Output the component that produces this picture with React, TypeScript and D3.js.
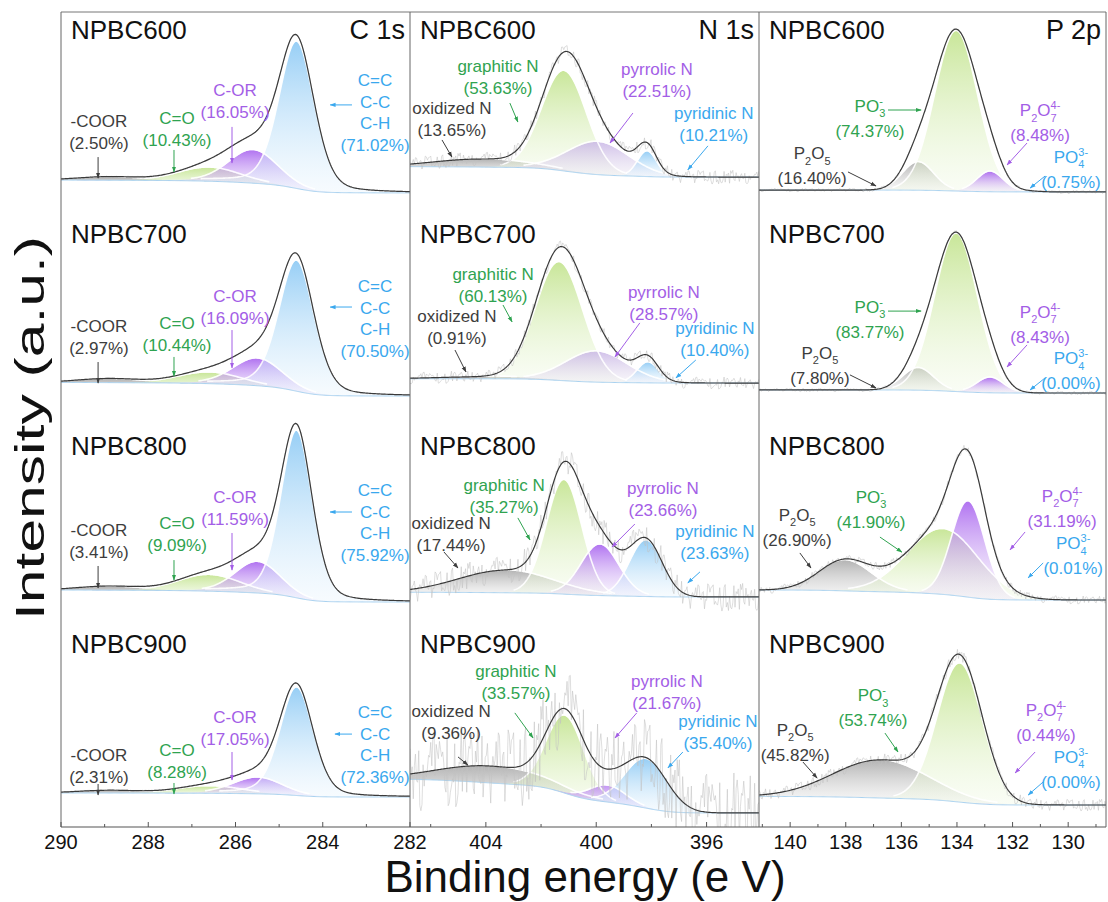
import React, { useMemo } from "react";
import * as d3 from "d3";

// ---------------- data ----------------
const SAMPLES = ["NPBC600", "NPBC700", "NPBC800", "NPBC900"];
const REGION_TITLES = ["C 1s", "N 1s", "P 2p"];

const C1S_DOMAIN = [290, 282];
const N1S_DOMAIN = [406.75, 394.1];
const P2P_DOMAIN = [141.12, 128.64];

const C1S_TICKS = [290, 288, 286, 284, 282];
const C1S_MINOR = [289, 287, 285, 283];
const N1S_TICKS = [404, 400, 396];
const N1S_MINOR = [406, 402, 398];
const P2P_TICKS = [140, 138, 136, 134, 132, 130];
const P2P_MINOR = [141, 139, 137, 135, 133, 131, 129];

// component order: gray, green, purple, blue
const C1S_NAMES = [["-COOR"], ["C=O"], ["C-OR"], ["C=C", "C-C", "C-H"]];
const N1S_NAMES = [["oxidized N"], ["graphitic N"], ["pyrrolic N"], ["pyridinic N"]];
const P2P_NAMES = [["P_2O_5"], ["PO_3^-"], ["P_2O_7^4-"], ["PO_4^3-"]];

const C1S_PERCENT = [
  [2.5, 10.43, 16.05, 71.02],
  [2.97, 10.44, 16.09, 70.5],
  [3.41, 9.09, 11.59, 75.92],
  [2.31, 8.28, 17.05, 72.36],
];
const N1S_PERCENT = [
  [13.65, 53.63, 22.51, 10.21],
  [0.91, 60.13, 28.57, 10.4],
  [17.44, 35.27, 23.66, 23.63],
  [9.36, 33.57, 21.67, 35.4],
];
const P2P_PERCENT = [
  [16.4, 74.37, 8.48, 0.75],
  [7.8, 83.77, 8.43, 0.0],
  [26.9, 41.9, 31.19, 0.01],
  [45.82, 53.74, 0.44, 0.0],
];

// fitted peak centres (eV)
const C1S_CENTER = [
  [288.9, 286.6, 285.6, 284.6],
  [288.9, 286.6, 285.5, 284.6],
  [288.9, 286.6, 285.5, 284.6],
  [288.9, 286.6, 285.5, 284.6],
];
const N1S_CENTER = [
  [404.2, 401.17, 399.94, 398.16],
  [404.0, 401.35, 400.0, 398.13],
  [403.3, 401.17, 399.87, 398.2],
  [403.85, 401.13, 399.6, 398.2],
];
const P2P_CENTER = [
  [135.4, 134.03, 132.81, 131.5],
  [135.4, 134.03, 132.81, 131.5],
  [138.03, 134.5, 133.6, 131.5],
  [136.77, 133.9, 132.8, 131.5],
];

// FWHM (eV)
const C1S_FWHM = [
  [1.6, 1.6, 1.3, 0.95],
  [1.6, 1.6, 1.3, 0.95],
  [1.6, 1.6, 1.2, 0.85],
  [1.6, 1.6, 1.3, 0.9],
];
const N1S_FWHM = [
  [4.0, 1.9, 2.6, 0.8],
  [4.0, 2.0, 2.6, 0.9],
  [4.0, 1.5, 1.6, 1.4],
  [4.5, 1.6, 1.5, 1.8],
];
const P2P_FWHM = [
  [1.3, 1.8, 1.1, 1.0],
  [1.3, 1.8, 1.1, 1.0],
  [2.2, 3.0, 1.4, 1.0],
  [4.0, 1.9, 1.0, 1.0],
];

// peak heights (a.u., 0-100 per panel)
const C1S_HEIGHT = [
  [1.5, 6.6, 16.2, 72],
  [1.8, 5.4, 13.3, 64],
  [1.8, 7.9, 15.2, 82],
  [1.2, 3.4, 7.9, 53],
];
const N1S_HEIGHT = [
  [3.9, 49, 16, 12.3],
  [1.0, 58, 15, 10],
  [11, 56, 25, 27.5],
  [8.3, 38, 8, 24],
];
const P2P_HEIGHT = [
  [13.7, 78.5, 9.8, 0.4],
  [10.8, 77.5, 7.4, 0],
  [15, 32, 47, 0],
  [18.6, 68, 0.4, 0],
];

// Lorentzian fraction of each component
const C1S_ETA = [0, 0, 0.1, 0.25];
const N1S_ETA = [0, 0, 0, 0];
const P2P_ETA = [0, 0, 0, 0];

// background level [high-BE side, low-BE side]
const C1S_BG = [[17.5, 11.2], [18.2, 11.5], [16.3, 10.4], [16.7, 14.7]];
const N1S_BG = [[24.1, 19.0], [20.0, 17.9], [15.2, 12.9], [23.4, 6.9]];
const P2P_BG = [[12.6, 11.7], [14.5, 13.0], [16.3, 11.4], [15.0, 10.8]];

// raw-data noise amplitude
const C1S_NOISE = [0.3, 0.3, 0.3, 0.3];
const N1S_NOISE = [3.5, 3, 7, 20];
const P2P_NOISE = [0.8, 0.8, 2, 3];

// measured scatter pattern of the raw spectra (hand read, normalised)
const NOISE = [
  0.12, -0.45, 0.78, -0.91, 0.33, 0.05, -0.62, 0.88, -0.27, 0.41, -0.08, 0.67, -0.74, 0.19, 0.93, -0.36,
  -0.55, 0.24, 0.71, -0.83, 0.47, -0.12, 0.58, -0.69, 0.02, 0.85, -0.41, -0.19, 0.63, -0.97, 0.36, 0.15,
  -0.52, 0.79, -0.23, 0.44, -0.88, 0.09, 0.61, -0.31, -0.72, 0.54, 0.27, -0.66, 0.91, -0.04, -0.48, 0.38,
  -0.81, 0.69, 0.11, -0.29, 0.83, -0.57, 0.22, -0.94, 0.49, 0.07, -0.38, 0.76, -0.15, 0.57, -0.79, 0.31,
  0.98, -0.44, -0.06, 0.65, -0.87, 0.18, 0.42, -0.61, 0.73, -0.21, -0.53, 0.89, -0.35, 0.14, 0.6, -0.77,
  0.29, -0.99, 0.52, 0.03, -0.46, 0.81, -0.26, 0.37, -0.7, 0.95, -0.13, -0.58, 0.45, 0.21, -0.84, 0.68,
  -0.33, 0.08, 0.74, -0.64, 0.26, -0.18, 0.87, -0.51, 0.39, -0.92, 0.16, 0.55, -0.24, -0.71, 0.62, 0.34,
  -0.86, 0.48, -0.1, 0.92, -0.39, 0.01, 0.7, -0.6, 0.43, -0.28, 0.8, -0.95, 0.17,
];

// annotation anchors in data coordinates [eV, a.u.]
const C1S_NOTE = [
  [[289.13, 43.6], [287.34, 45.0], [286.01, 58.8], [282.8, 63.7]],
  [[289.13, 43.0], [287.34, 44.4], [286.01, 57.7], [282.8, 62.6]],
  [[289.13, 42.8], [287.34, 46.3], [286.01, 59.0], [282.8, 62.5]],
  [[289.13, 32.4], [287.34, 34.8], [286.01, 51.0], [282.8, 53.5]],
];
const C1S_ARROW = [
  [[289.15, 28.8, 289.15, 18.5], [287.41, 32.3, 287.41, 21.5], [286.08, 43.6, 286.08, 25.9], [283.33, 54.4, 283.83, 54.4]],
  [[289.15, 28.2, 289.15, 17.9], [287.41, 30.7, 287.41, 21.3], [286.08, 43.9, 286.08, 25.3], [283.33, 55.2, 283.83, 55.2]],
  [[289.15, 28.1, 289.15, 17.3], [287.41, 31.0, 287.41, 21.2], [286.08, 44.3, 286.08, 26.1], [283.33, 54.6, 283.83, 54.6]],
  [[289.15, 21.1, 289.15, 15.7], [287.41, 21.6, 287.41, 16.2], [286.08, 36.8, 286.08, 23.1], [283.33, 45.6, 283.72, 45.6]],
];
const N1S_NOTE = [
  [[405.23, 49.9], [403.56, 70.6], [397.8, 69.1], [395.74, 47.5]],
  [[405.05, 47.9], [403.74, 68.5], [397.55, 59.6], [395.7, 42.0]],
  [[405.26, 46.3], [403.34, 64.9], [397.58, 63.4], [395.7, 42.3]],
  [[405.26, 54.0], [402.91, 73.6], [397.44, 68.7], [395.59, 49.1]],
];
const N1S_ARROW = [
  [[405.59, 37.2, 405.23, 28.8], [403.13, 55.3, 402.84, 46.0], [398.67, 50.4, 399.5, 35.7], [395.95, 34.3, 396.68, 22.5]],
  [[405.12, 34.1, 404.72, 23.3], [403.38, 56.2, 403.05, 47.9], [398.42, 47.4, 399.32, 30.7], [396.39, 29.2, 397.11, 20.4]],
  [[405.52, 35.0, 405.01, 27.1], [402.84, 51.7, 402.4, 40.9], [398.6, 48.7, 399.43, 37.4], [396.24, 25.2, 396.68, 19.8]],
  [[405.01, 34.4, 404.65, 30.4], [402.95, 56.0, 402.29, 43.7], [398.53, 56.0, 399.32, 43.7], [396.86, 36.8, 397.4, 29.0]],
];
const P2P_NOTE = [
  [[139.21, 27.8], [137.13, 50.9], [131.01, 48.9], [129.9, 25.9]],
  [[138.93, 29.7], [137.13, 52.3], [131.01, 49.8], [129.9, 27.2]],
  [[139.75, 50.2], [137.09, 59.0], [130.22, 59.5], [129.82, 36.4]],
  [[139.82, 44.7], [137.02, 61.8], [130.8, 54.5], [129.9, 31.4]],
];
const P2P_ARROW = [
  [[137.92, 21.5, 136.91, 14.6], [136.48, 51.9, 135.29, 51.9], [131.48, 35.7, 132.2, 24.9], [130.83, 19.5, 131.37, 13.6]],
  [[137.85, 21.9, 136.91, 15.5], [136.48, 53.2, 135.29, 53.2], [131.48, 36.6, 132.2, 25.8], [130.83, 20.4, 131.37, 14.5]],
  [[139.65, 34.5, 139.25, 27.1], [136.77, 42.3, 135.98, 34.9], [131.55, 44.8, 132.09, 36.0], [130.9, 29.6, 131.44, 22.3]],
  [[139.54, 31.9, 139.03, 24.0], [136.59, 46.1, 136.12, 36.8], [131.19, 36.8, 131.91, 26.5], [130.9, 22.1, 131.44, 15.7]],
];

// ---------------- layout / style ----------------
const COL_EDGES = [61, 410, 759, 1106];
const TOP = 12;
const BOTTOM = 827;
const ROW_H = (BOTTOM - TOP) / 4;
const TITLE_OFFSET = [27, 27, 35, 30];
const LINE_GAP = [21.7, 22, 25];
const FONT = "'Liberation Sans', Arial, Helvetica, sans-serif";
const TEXT_COLORS = ["#3d3d3d", "#2fa350", "#a35ee6", "#3aa8ee"];
const FILL_TOP = ["#a6a6a6", "#c6e594", "#ad6cf0", "#92ccf5", "#c9b6e6"];
const FILL_BOTTOM = ["#ececec", "#f0f9e4", "#e9dcf8", "#e8f4fd", "#ece8f2"];
const FILL_TOP_OP = [0.85, 0.95, 0.95, 0.95, 0.85];
const FILL_BOTTOM_OP = [0.35, 0.35, 0.3, 0.35, 0.4];

const REGIONS = [
  { title: REGION_TITLES[0], domain: C1S_DOMAIN, ticks: C1S_TICKS, minor: C1S_MINOR, names: C1S_NAMES, percent: C1S_PERCENT, center: C1S_CENTER, fwhm: C1S_FWHM, height: C1S_HEIGHT, eta: C1S_ETA, bg: C1S_BG, noise: C1S_NOISE, note: C1S_NOTE, arrow: C1S_ARROW },
  { title: REGION_TITLES[1], domain: N1S_DOMAIN, ticks: N1S_TICKS, minor: N1S_MINOR, names: N1S_NAMES, percent: N1S_PERCENT, center: N1S_CENTER, fwhm: N1S_FWHM, height: N1S_HEIGHT, eta: N1S_ETA, bg: N1S_BG, noise: N1S_NOISE, note: N1S_NOTE, arrow: N1S_ARROW },
  { title: REGION_TITLES[2], domain: P2P_DOMAIN, ticks: P2P_TICKS, minor: P2P_MINOR, names: P2P_NAMES, percent: P2P_PERCENT, center: P2P_CENTER, fwhm: P2P_FWHM, height: P2P_HEIGHT, eta: P2P_ETA, bg: P2P_BG, noise: P2P_NOISE, note: P2P_NOTE, arrow: P2P_ARROW },
];

function pseudoVoigt(E: number, c: number, w: number, a: number, eta: number) {
  const d = (E - c) / w;
  return a * ((1 - eta) * Math.exp(-4 * Math.LN2 * d * d) + eta / (1 + 4 * d * d));
}

function Chem({ text, x, y, size, fill }: { text: string; x: number; y: number; size: number; fill: string }) {
  const sub = Math.round(size * 0.66);
  const tokens: { t: string; k: string }[] = [];
  let i = 0;
  while (i < text.length) {
    const ch = text[i];
    if (ch === "_") {
      tokens.push({ t: text[i + 1], k: "sub" });
      i += 2;
    } else if (ch === "^") {
      tokens.push({ t: text.slice(i + 1), k: "sup" });
      break;
    } else {
      let j = i;
      while (j < text.length && text[j] !== "_" && text[j] !== "^") j++;
      tokens.push({ t: text.slice(i, j), k: "n" });
      i = j;
    }
  }
  let cur = 0;
  let lastSub = 0;
  return (
    <text x={x} y={y} fill={fill} fontSize={size} fontFamily={FONT} textAnchor="middle">
      {tokens.map((tk, idx) => {
        const target = tk.k === "sub" ? size * 0.32 : tk.k === "sup" ? -size * 0.42 : 0;
        const dy = target - cur;
        cur = target;
        const dx = tk.k === "sup" && lastSub > 0 ? -lastSub * sub * 0.556 : 0;
        lastSub = tk.k === "sub" ? tk.t.length : 0;
        return (
          <tspan key={idx} dx={dx} dy={dy} fontSize={tk.k === "n" ? size : sub}>
            {tk.t}
          </tspan>
        );
      })}
    </text>
  );
}

const N = 320;

export default function App() {
  const panels = useMemo(() => {
    const out: any[] = [];
    REGIONS.forEach((region, c) => {
      const x = d3.scaleLinear().domain(region.domain).range([COL_EDGES[c], COL_EDGES[c + 1]]);
      SAMPLES.forEach((sample, s) => {
        const rowTop = TOP + s * ROW_H;
        const rowBottom = rowTop + ROW_H;
        const y = d3.scaleLinear().domain([0, 100]).range([rowBottom, rowTop]);
        const [d0, d1] = region.domain;
        const grid = d3.range(N + 1).map((i) => d0 + ((d1 - d0) * i) / N);
        const comps = region.center[s].map((cen, k) =>
          grid.map((E) => pseudoVoigt(E, cen, region.fwhm[s][k], region.height[s][k], region.eta[k]))
        );
        const total = grid.map((_, i) => d3.sum(comps, (cc) => cc[i]));
        const step = Math.abs(d1 - d0) / N;
        const cum = new Array(N + 1).fill(0);
        for (let i = N - 1; i >= 0; i--) cum[i] = cum[i + 1] + ((total[i] + total[i + 1]) / 2) * step;
        const [bL, bR] = region.bg[s];
        const bgv = grid.map((_, i) => bR + ((bL - bR) * cum[i]) / (cum[0] || 1));
        const env = grid.map((_, i) => bgv[i] + total[i]);
        const raw = grid.map(
          (_, i) => env[i] + region.noise[s] * NOISE[(i * 7 + s * 31 + c * 17) % NOISE.length]
        );
        const area = d3
          .area<number>()
          .x((_, i) => x(grid[i]))
          .y0((_, i) => y(bgv[i]))
          .y1((v, i) => y(bgv[i] + v));
        const halo = d3
          .line<number>()
          .defined((v) => v > 0.8)
          .x((_, i) => x(grid[i]))
          .y((v, i) => y(bgv[i] + v) - 0.8);
        const line = d3
          .line<number>()
          .x((_, i) => x(grid[i]))
          .y((v) => y(v));
        out.push({ c, s, sample, x, y, rowTop, comps, area, halo, line, bgv, env, raw, region });
      });
    });
    return out;
  }, []);

  const gradFor = (c: number, s: number, k: number) => (c === 1 && s < 2 && k === 2 ? 4 : k);

  return (
    <svg width={1108} height={902} style={{ position: "absolute", left: 0, top: 0, background: "#fff" }} fontFamily={FONT}>
      <defs>
        {FILL_TOP.map((col, k) => (
          <linearGradient key={k} id={`grad-${k}`} x1="0" y1="0" x2="0" y2="1">
            <stop offset="0" stopColor={col} stopOpacity={FILL_TOP_OP[k]} />
            <stop offset="1" stopColor={FILL_BOTTOM[k]} stopOpacity={FILL_BOTTOM_OP[k]} />
          </linearGradient>
        ))}
        {TEXT_COLORS.map((col, k) => (
          <marker key={k} id={`ah-${k}`} viewBox="0 0 10 10" refX="9" refY="5" markerWidth="6" markerHeight="6" orient="auto">
            <path d="M0,1.5 L10,5 L0,8.5 z" fill={col} />
          </marker>
        ))}
        {[0, 1, 2].map((c) => (
          <clipPath key={c} id={`clip-${c}`}>
            <rect x={COL_EDGES[c]} y={TOP} width={COL_EDGES[c + 1] - COL_EDGES[c]} height={BOTTOM - TOP} />
          </clipPath>
        ))}
      </defs>

      {panels.map((p) => (
        <g key={`${p.c}-${p.s}`} clipPath={`url(#clip-${p.c})`}>
          {p.comps.map((cc: number[], k: number) => (
            <path key={k} d={p.area(cc)} fill={`url(#grad-${gradFor(p.c, p.s, k)})`} stroke="none" />
          ))}
          {p.comps.map((cc: number[], k: number) => (
            <path key={`h${k}`} d={p.halo(cc)} fill="none" stroke="#fff" strokeWidth={1.6} strokeOpacity={0.9} />
          ))}
          <path d={p.line(p.bgv)} fill="none" stroke="#a9d2f0" strokeWidth={1} />
          <path d={p.line(p.raw)} fill="none" stroke="#c2c2c2" strokeWidth={0.6} strokeOpacity={0.9} />
          <path d={p.line(p.env)} fill="none" stroke="#3a3a3a" strokeWidth={1.2} />
        </g>
      ))}

      {/* annotations */}
      {panels.map((p) =>
        p.region.names.map((nm: string[], k: number) => {
          const pos = p.region.note[p.s][k];
          const ar = p.region.arrow[p.s][k];
          const gap = LINE_GAP[p.c];
          const tx = p.x(pos[0]);
          const ty = p.y(pos[1]);
          const lines = [...nm, `(${p.region.percent[p.s][k].toFixed(2)}%)`];
          return (
            <g key={`a-${p.c}-${p.s}-${k}`}>
              {lines.map((ln, j) =>
                p.c === 2 && j === 0 ? (
                  <Chem key={j} text={ln} x={tx} y={ty} size={17} fill={TEXT_COLORS[k]} />
                ) : (
                  <text key={j} x={tx} y={ty + j * gap} fontSize={17} fill={TEXT_COLORS[k]} textAnchor="middle">
                    {ln}
                  </text>
                )
              )}
              <line
                x1={p.x(ar[0])}
                y1={p.y(ar[1])}
                x2={p.x(ar[2])}
                y2={p.y(ar[3])}
                stroke={TEXT_COLORS[k]}
                strokeWidth={1}
                markerEnd={`url(#ah-${k})`}
              />
            </g>
          );
        })
      )}

      {/* sample titles */}
      {panels.map((p) => (
        <text key={`t-${p.c}-${p.s}`} x={COL_EDGES[p.c] + 10} y={p.rowTop + TITLE_OFFSET[p.s]} fontSize={26} fill="#111">
          {p.sample}
        </text>
      ))}
      {REGIONS.map((r, c) => (
        <text key={`rt-${c}`} x={COL_EDGES[c + 1] - 5} y={TOP + TITLE_OFFSET[0]} fontSize={27} fill="#111" textAnchor="end">
          {r.title}
        </text>
      ))}

      {/* frame */}
      <line x1={COL_EDGES[0]} x2={COL_EDGES[3]} y1={TOP} y2={TOP} stroke="#777" strokeWidth={1} />
      <line x1={COL_EDGES[0]} x2={COL_EDGES[3]} y1={BOTTOM} y2={BOTTOM} stroke="#555" strokeWidth={1.2} />
      {COL_EDGES.map((ex, i) => (
        <line key={`v${i}`} x1={ex} x2={ex} y1={TOP} y2={BOTTOM} stroke="#666" strokeWidth={1} />
      ))}

      {/* ticks */}
      {REGIONS.map((r, c) => {
        const x = d3.scaleLinear().domain(r.domain).range([COL_EDGES[c], COL_EDGES[c + 1]]);
        return (
          <g key={`ax-${c}`}>
            {r.ticks.map((t) => (
              <g key={`M${t}`}>
                <line x1={x(t)} x2={x(t)} y1={BOTTOM} y2={BOTTOM - 5} stroke="#555" />
                <text x={x(t)} y={BOTTOM + 22} fontSize={20} textAnchor="middle" fill="#111">
                  {t}
                </text>
              </g>
            ))}
            {r.minor.map((t) => (
              <line key={`m${t}`} x1={x(t)} x2={x(t)} y1={BOTTOM} y2={BOTTOM - 3} stroke="#555" />
            ))}
          </g>
        );
      })}

      {/* axis titles */}
      <text x={585} y={892} fontSize={44} textAnchor="middle" fill="#111">
        Binding energy (e V)
      </text>
      <text
        transform="translate(44,428) rotate(-90)"
        fontSize={41}
        textAnchor="middle"
        fill="#111"
        textLength={384}
        lengthAdjust="spacingAndGlyphs"
      >
        Intensity (a.u.)
      </text>
    </svg>
  );
}
